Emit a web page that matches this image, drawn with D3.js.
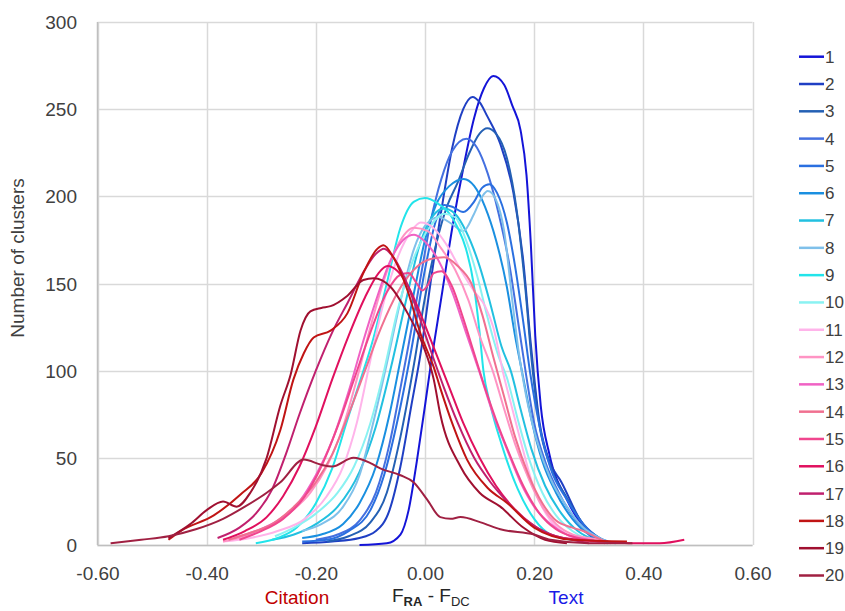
<!DOCTYPE html>
<html><head><meta charset="utf-8">
<script src="https://cdn.jsdelivr.net/npm/d3@7"></script>
<style>body{margin:0;background:#fff}svg{display:block;font-family:"Liberation Sans",Arial,sans-serif}</style>
</head><body>
<svg id="chart" width="845" height="611"></svg>
<script>
const seriesNames = ["1","2","3","4","5","6","7","8","9","10","11","12","13","14","15","16","17","18","19","20"];
const seriesColors = ["#1414d8","#1f3fc4","#2460b4","#4470e0","#2a6fe0","#1a8fe0","#22c0e0","#7fc0ea","#22e4ea","#8af2f2",
  "#ffb4ea","#ff94c4","#f062c4","#f07090","#f0468e","#e0105e","#c0206e","#c01414","#a01030","#a02042"];
const xTicks = [-0.6,-0.4,-0.2,0,0.2,0.4,0.6];
const yTicks = [0,50,100,150,200,250,300];

const s1 = [[-0.12,0],[-0.07,1],[-0.045,6],[-0.03,20],[-0.015,48],[0.0,80],[0.01,102],[0.03,142],[0.05,182],[0.07,216],[0.09,245],[0.108,262],[0.125,269],[0.145,264],[0.16,252],[0.175,238],[0.186,212],[0.194,172],[0.202,120],[0.212,80],[0.228,52],[0.26,26],[0.29,10],[0.31,3]];
const s2 = [[-0.225,1],[-0.17,2],[-0.12,4],[-0.09,8],[-0.065,20],[-0.045,45],[-0.025,80],[-0.008,110],[0.01,150],[0.03,192],[0.05,228],[0.07,250],[0.087,257],[0.1,254],[0.114,246],[0.138,230],[0.162,202],[0.18,163],[0.193,118],[0.21,70],[0.228,48],[0.25,36],[0.285,14],[0.31,5],[0.33,2]];
const s3 = [[-0.18,2],[-0.14,5],[-0.1,13],[-0.07,30],[-0.045,62],[-0.02,104],[0.0,142],[0.02,172],[0.04,194],[0.06,208],[0.08,224],[0.1,236],[0.114,239],[0.13,236],[0.15,222],[0.168,192],[0.183,150],[0.196,104],[0.21,68],[0.23,45],[0.26,27],[0.29,12],[0.32,4],[0.34,1]];
const s4 = [[-0.2,3],[-0.16,6],[-0.12,14],[-0.09,30],[-0.065,58],[-0.045,90],[-0.03,115],[-0.01,150],[0.01,185],[0.03,210],[0.05,226],[0.076,233],[0.095,228],[0.115,213],[0.135,190],[0.155,160],[0.172,125],[0.186,96],[0.2,70],[0.22,48],[0.245,30],[0.27,17],[0.3,7],[0.33,2]];
const s5 = [[-0.225,2],[-0.18,3],[-0.14,8],[-0.1,20],[-0.075,40],[-0.05,72],[-0.025,112],[0.0,158],[0.02,186],[0.035,195],[0.05,194],[0.07,191],[0.09,197],[0.105,205],[0.118,207],[0.132,202],[0.15,185],[0.165,160],[0.18,128],[0.193,98],[0.21,68],[0.23,44],[0.26,26],[0.29,12],[0.32,4],[0.335,2]];
const s6 = [[-0.225,4],[-0.19,6],[-0.15,12],[-0.12,24],[-0.09,45],[-0.065,75],[-0.045,106],[-0.02,145],[0.0,175],[0.02,195],[0.045,206],[0.071,210],[0.09,206],[0.11,194],[0.13,175],[0.15,148],[0.165,120],[0.178,99],[0.195,72],[0.215,48],[0.24,30],[0.27,15],[0.3,6],[0.33,2]];
const s7 = [[-0.28,3],[-0.24,6],[-0.2,12],[-0.16,22],[-0.12,42],[-0.09,68],[-0.06,105],[-0.035,140],[-0.01,172],[0.015,189],[0.035,193],[0.055,190],[0.075,180],[0.1,160],[0.12,138],[0.14,114],[0.158,99],[0.175,78],[0.195,55],[0.22,34],[0.25,18],[0.28,8],[0.31,3],[0.335,1]];
const s8 = [[-0.225,8],[-0.19,12],[-0.15,22],[-0.12,40],[-0.095,70],[-0.07,104],[-0.045,140],[-0.02,170],[0.0,183],[0.025,188],[0.05,184],[0.07,180],[0.09,190],[0.105,200],[0.115,203],[0.13,198],[0.145,180],[0.16,140],[0.172,110],[0.185,86],[0.205,60],[0.23,38],[0.26,22],[0.29,10],[0.32,4],[0.335,2]];
const s9 = [[-0.31,1],[-0.27,4],[-0.235,10],[-0.2,24],[-0.17,44],[-0.142,72],[-0.118,95],[-0.095,118],[-0.07,150],[-0.045,182],[-0.02,197],[0.0,199],[0.023,196],[0.045,190],[0.06,182],[0.075,170],[0.089,150],[0.1,122],[0.107,100],[0.12,80],[0.14,58],[0.17,32],[0.2,15],[0.23,6],[0.27,3],[0.32,2],[0.35,1]];
const s10 = [[-0.275,5],[-0.24,10],[-0.2,18],[-0.16,30],[-0.13,45],[-0.1,70],[-0.075,100],[-0.05,135],[-0.02,165],[0.01,183],[0.035,190],[0.055,188],[0.075,175],[0.095,155],[0.115,130],[0.135,108],[0.15,96],[0.17,72],[0.19,50],[0.215,30],[0.24,17],[0.27,8],[0.3,3],[0.33,1]];
const s11 = [[-0.37,2],[-0.32,4],[-0.27,8],[-0.22,15],[-0.18,28],[-0.15,45],[-0.125,70],[-0.1,106],[-0.075,140],[-0.05,165],[-0.025,180],[-0.008,185],[0.015,182],[0.04,172],[0.065,158],[0.089,146],[0.11,137],[0.125,125],[0.143,99],[0.16,78],[0.175,60],[0.2,32],[0.23,14],[0.26,6],[0.3,2],[0.32,1]];
const s12 = [[-0.37,2],[-0.33,5],[-0.29,10],[-0.25,18],[-0.21,30],[-0.18,45],[-0.15,68],[-0.125,95],[-0.1,125],[-0.075,152],[-0.05,172],[-0.02,182],[0.005,180],[0.03,170],[0.055,158],[0.08,140],[0.1,120],[0.125,99],[0.145,78],[0.165,58],[0.19,38],[0.215,22],[0.24,12],[0.27,6],[0.3,4],[0.32,3]];
const s13 = [[-0.35,4],[-0.31,8],[-0.27,14],[-0.23,25],[-0.2,40],[-0.17,60],[-0.14,88],[-0.115,115],[-0.09,140],[-0.065,162],[-0.04,175],[-0.02,178],[0.0,174],[0.025,163],[0.05,145],[0.075,122],[0.1,99],[0.125,75],[0.15,55],[0.175,36],[0.2,22],[0.23,12],[0.26,6],[0.3,3],[0.33,1]];
const s14 = [[-0.36,3],[-0.32,7],[-0.28,12],[-0.24,22],[-0.2,36],[-0.17,52],[-0.14,75],[-0.11,100],[-0.08,125],[-0.05,145],[-0.02,158],[0.01,164],[0.035,165],[0.06,160],[0.085,150],[0.105,132],[0.125,108],[0.145,85],[0.165,62],[0.19,40],[0.215,24],[0.24,14],[0.27,10],[0.29,8],[0.31,5],[0.33,2]];
const s15 = [[-0.34,3],[-0.3,8],[-0.26,15],[-0.22,28],[-0.19,45],[-0.16,68],[-0.13,95],[-0.1,122],[-0.07,145],[-0.045,155],[-0.03,156],[-0.015,150],[-0.005,146],[0.005,149],[0.016,156],[0.03,157],[0.05,148],[0.07,130],[0.09,110],[0.11,90],[0.13,72],[0.155,52],[0.18,34],[0.21,18],[0.24,9],[0.28,4],[0.32,2]];
const s16 = [[-0.37,3],[-0.33,8],[-0.29,16],[-0.26,28],[-0.23,45],[-0.2,68],[-0.17,95],[-0.14,120],[-0.11,142],[-0.085,156],[-0.069,160],[-0.05,157],[-0.03,148],[-0.005,130],[0.02,110],[0.045,90],[0.07,70],[0.1,50],[0.13,34],[0.16,22],[0.2,11],[0.24,5],[0.28,3],[0.33,2],[0.38,1],[0.43,1],[0.475,3]];
const s17 = [[-0.38,4],[-0.34,10],[-0.31,18],[-0.28,32],[-0.255,52],[-0.23,75],[-0.2,100],[-0.17,122],[-0.14,140],[-0.11,158],[-0.09,167],[-0.075,170],[-0.06,166],[-0.04,155],[-0.015,135],[0.01,112],[0.035,90],[0.06,70],[0.09,50],[0.12,36],[0.15,25],[0.19,13],[0.23,6],[0.27,3],[0.3,1]];
const s18 = [[-0.47,3],[-0.448,8],[-0.387,17],[-0.338,29],[-0.3,41],[-0.265,66],[-0.241,95],[-0.222,110],[-0.204,119],[-0.173,123],[-0.142,133],[-0.113,156],[-0.087,170],[-0.076,172],[-0.058,165],[-0.032,146],[-0.008,121],[0.016,102],[0.028,90],[0.052,68],[0.077,49],[0.114,33],[0.151,24],[0.2,10],[0.27,3],[0.37,2]];
const s19 = [[-0.47,4],[-0.43,12],[-0.4,20],[-0.37,25],[-0.345,22],[-0.32,30],[-0.29,50],[-0.265,80],[-0.246,98],[-0.228,123],[-0.21,134],[-0.19,136],[-0.173,137],[-0.142,143],[-0.113,152],[-0.094,153],[-0.063,148],[-0.032,133],[-0.003,114],[0.016,95],[0.028,75],[0.065,45],[0.1,30],[0.138,22],[0.18,10],[0.22,3],[0.26,1]];
const s20 = [[-0.576,1],[-0.52,3],[-0.47,5],[-0.42,9],[-0.37,15],[-0.33,22],[-0.29,30],[-0.265,36],[-0.222,49],[-0.19,46],[-0.17,45],[-0.131,50],[-0.1,47],[-0.082,44],[-0.045,40],[-0.021,36],[0.004,26],[0.028,16],[0.047,15],[0.065,16],[0.102,13],[0.138,9],[0.2,6],[0.23,3],[0.3,1],[0.38,1]];
const seriesPoints = [s1,s2,s3,s4,s5,s6,s7,s8,s9,s10,s11,s12,s13,s14,s15,s16,s17,s18,s19,s20];

const svg = d3.select("#chart");
const M = {left:97.5, right:752.5, top:22, bottom:545};
const x = d3.scaleLinear().domain([-0.6,0.6]).range([M.left, M.right]);
const y = d3.scaleLinear().domain([0,300]).range([M.bottom, M.top]);

// grid
svg.append("g").selectAll("line.v").data(xTicks).join("line")
  .attr("x1", d=>Math.round(x(d))+0.5).attr("x2", d=>Math.round(x(d))+0.5)
  .attr("y1", M.top).attr("y2", M.bottom).attr("stroke","#d9d9d9").attr("stroke-width",1.5);
svg.append("g").selectAll("line.h").data(yTicks).join("line")
  .attr("x1", M.left).attr("x2", M.right)
  .attr("y1", d=>Math.round(y(d))+0.5).attr("y2", d=>Math.round(y(d))+0.5)
  .attr("stroke","#d9d9d9").attr("stroke-width",1.5);
// axis lines
svg.append("line").attr("x1",M.left).attr("x2",M.left).attr("y1",M.top).attr("y2",M.bottom).attr("stroke","#bfbfbf").attr("stroke-width",1.5);
svg.append("line").attr("x1",M.left).attr("x2",M.right).attr("y1",M.bottom+0.5).attr("y2",M.bottom+0.5).attr("stroke","#bfbfbf").attr("stroke-width",1.5);

// axes (labels)
const xAxis = d3.axisBottom(x).tickValues(xTicks).tickSize(0).tickPadding(0).tickFormat(d=>d.toFixed(2));
const gx = svg.append("g").attr("transform",`translate(0,${M.bottom})`).call(xAxis);
gx.select(".domain").remove();
gx.selectAll("text").attr("dy",null).attr("y",35).attr("font-size",19).attr("fill","#404040").attr("font-family","Liberation Sans, Arial, sans-serif");
const yAxis = d3.axisLeft(y).tickValues(yTicks).tickSize(0).tickPadding(0).tickFormat(d=>d);
const gy = svg.append("g").attr("transform",`translate(77,0)`).call(yAxis);
gy.select(".domain").remove();
gy.selectAll("text").attr("x",0).attr("dy","0.35em").attr("font-size",19).attr("fill","#404040").attr("font-family","Liberation Sans, Arial, sans-serif");

// curves
const line = d3.line().x(d=>x(d[0])).y(d=>y(d[1])).curve(d3.curveMonotoneX);
svg.append("g").selectAll("path").data(seriesPoints).join("path")
  .attr("d", line).attr("fill","none")
  .attr("stroke", (d,i)=>seriesColors[i]).attr("stroke-width",2);

// legend
const ly = d3.scaleLinear().domain([0,19]).range([56.7,575.5]);
const lg = svg.append("g").selectAll("g").data(seriesNames).join("g")
  .attr("transform",(d,i)=>`translate(0,${ly(i)})`);
lg.append("line").attr("x1",799).attr("x2",824).attr("stroke",(d,i)=>seriesColors[i]).attr("stroke-width",2.5);
lg.append("text").attr("x",825).attr("dy","0.35em").attr("font-size",17).attr("fill","#404040").text(d=>d);

// titles
svg.append("text").attr("transform","translate(24,258) rotate(-90)").attr("text-anchor","middle")
  .attr("font-size",19).attr("fill","#404040").text("Number of clusters");
svg.append("text").attr("x",297).attr("y",604).attr("text-anchor","middle").attr("font-size",19).attr("fill","#c00000").text("Citation");
svg.append("text").attr("x",566).attr("y",604).attr("text-anchor","middle").attr("font-size",19).attr("fill","#1a1ae6").text("Text");
const ft = svg.append("text").attr("x",392).attr("y",602).attr("font-size",19).attr("fill","#262626");
ft.append("tspan").text("F");
ft.append("tspan").attr("font-size",13).attr("font-weight","bold").attr("dy",4).text("RA");
ft.append("tspan").attr("dy",-4).text(" - F");
ft.append("tspan").attr("font-size",13).attr("dy",4).text("DC");
</script>
</body></html>
